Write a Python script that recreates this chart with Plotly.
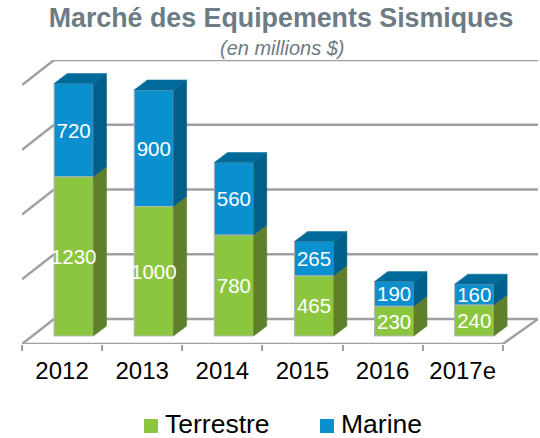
import plotly.graph_objects as go

categories = ["2012", "2013", "2014", "2015", "2016", "2017e"]
terrestre = [1230, 1000, 780, 465, 230, 240]
marine = [720, 900, 560, 265, 190, 160]
grid_values = [0, 500, 1000, 1500, 2000]

# faux-3D projection, in axis units
FLOOR_LIFT = 62      # bars stand on the floor, slightly behind its front edge
BAR_OFFSET = -0.1
BAR_WIDTH = 0.49
BAR_DEPTH_X = 0.165
BAR_DEPTH_Y = 77
WALL_DEPTH_X = 0.40
WALL_DEPTH_Y = 193
WALL_RIGHT_X = 5.5 + 0.44
LABEL_DROP = 18

GREEN, GREEN_SIDE = "#8cc63f", "#5f7f2b"
BLUE, BLUE_SIDE, BLUE_TOP = "#0a8fcf", "#005f8a", "#006a9a"
GRID = "#a0a0a0"
TITLE_GREY = "#6d7b84"
FONT = "Liberation Sans"

xs = list(range(len(categories)))
fig = go.Figure()


def polygon(px, py, color):
    fig.add_trace(go.Scatter(x=px + [px[0]], y=py + [py[0]], mode="lines", fill="toself",
                             fillcolor=color, line=dict(color=color, width=0.5),
                             hoverinfo="skip", showlegend=False, cliponaxis=False))


green_base = [FLOOR_LIFT] * len(xs)
blue_base = [FLOOR_LIFT + t for t in terrestre]
fig.add_trace(go.Bar(x=xs, y=terrestre, base=green_base, name="Terrestre", offset=BAR_OFFSET,
                     width=BAR_WIDTH, marker=dict(color=GREEN, line=dict(color="#b5b5b5", width=1)),
                     showlegend=False))
fig.add_trace(go.Bar(x=xs, y=marine, base=blue_base, name="Marine", offset=BAR_OFFSET,
                     width=BAR_WIDTH, marker=dict(color=BLUE, line=dict(color="#b5b5b5", width=1)),
                     showlegend=False))

for x, t, m in zip(xs, terrestre, marine):
    right = x + BAR_OFFSET + BAR_WIDTH
    left = x + BAR_OFFSET
    y0, y1, y2 = FLOOR_LIFT, FLOOR_LIFT + t, FLOOR_LIFT + t + m
    polygon([right, right + BAR_DEPTH_X, right + BAR_DEPTH_X, right],
            [y0, y0 + BAR_DEPTH_Y, y1 + BAR_DEPTH_Y, y1], GREEN_SIDE)
    polygon([right, right + BAR_DEPTH_X, right + BAR_DEPTH_X, right],
            [y1, y1 + BAR_DEPTH_Y, y2 + BAR_DEPTH_Y, y2], BLUE_SIDE)
    polygon([left, left + BAR_DEPTH_X, right + BAR_DEPTH_X, right],
            [y2, y2 + BAR_DEPTH_Y, y2 + BAR_DEPTH_Y, y2], BLUE_TOP)

label_x = [x + BAR_OFFSET + BAR_WIDTH / 2 for x in xs]
fig.add_trace(go.Scatter(x=label_x, y=[FLOOR_LIFT + t / 2 - LABEL_DROP for t in terrestre], mode="text",
                         text=[str(v) for v in terrestre], textposition="middle center",
                         textfont=dict(color="white", size=20.5, family=FONT),
                         showlegend=False, cliponaxis=False))
fig.add_trace(go.Scatter(x=label_x, y=[FLOOR_LIFT + t + m / 2 - LABEL_DROP for t, m in zip(terrestre, marine)],
                         mode="text", text=[str(v) for v in marine], textposition="middle center",
                         textfont=dict(color="white", size=20.5, family=FONT),
                         showlegend=False, cliponaxis=False))

# front edge and right edge of the floor stay on top, unclipped
fig.add_trace(go.Scatter(x=[-0.5, 5.5], y=[0, 0], mode="lines",
                         line=dict(color=GRID, width=2.5), hoverinfo="skip",
                         showlegend=False, cliponaxis=False))
fig.add_trace(go.Scatter(x=[5.5, WALL_RIGHT_X], y=[0, WALL_DEPTH_Y], mode="lines",
                         line=dict(color=GRID, width=2.5), hoverinfo="skip",
                         showlegend=False, cliponaxis=False))

shapes = []
for v in grid_values:
    shapes.append(dict(type="line", layer="below", xref="x", yref="y", x0=-0.5, y0=v,
                       x1=-0.5 + WALL_DEPTH_X, y1=v + WALL_DEPTH_Y,
                       line=dict(color=GRID, width=2.5)))
    shapes.append(dict(type="line", layer="below", xref="x", yref="y", x0=-0.5 + WALL_DEPTH_X,
                       y0=v + WALL_DEPTH_Y, x1=WALL_RIGHT_X, y1=v + WALL_DEPTH_Y,
                       line=dict(color=GRID, width=2.5)))
# legend keys
shapes.append(dict(type="rect", xref="paper", yref="paper", x0=(144 - 22) / 516, x1=(158 - 22) / 516,
                   y0=-(433 - 344) / 284, y1=-(419 - 344) / 284, fillcolor=GREEN, line=dict(width=0)))
shapes.append(dict(type="rect", xref="paper", yref="paper", x0=(320 - 22) / 516, x1=(334 - 22) / 516,
                   y0=-(433 - 344) / 284, y1=-(419 - 344) / 284, fillcolor=BLUE, line=dict(width=0)))

annotations = [
    dict(text="<i>(en millions $)</i>", xref="paper", yref="paper", x=(282 - 22) / 516,
         y=(344 - 48) / 284, yanchor="middle", showarrow=False,
         font=dict(size=20, color=TITLE_GREY, family=FONT)),
    dict(text="Terrestre", xref="paper", yref="paper", x=(163 - 22) / 516, xanchor="left",
         y=-(424 - 344) / 284, yanchor="middle", showarrow=False,
         font=dict(size=26.5, color="black", family=FONT)),
    dict(text="Marine", xref="paper", yref="paper", x=(339 - 22) / 516, xanchor="left",
         y=-(424 - 344) / 284, yanchor="middle", showarrow=False,
         font=dict(size=26.5, color="black", family=FONT)),
]

fig.update_layout(
    width=540, height=438, autosize=False,
    margin=dict(l=22, r=2, t=60, b=94, pad=0),
    paper_bgcolor="white", plot_bgcolor="white",
    barmode="overlay", showlegend=False,
    title=dict(text="<b>Marché des Equipements Sismiques</b>", x=281 / 540,
               xanchor="center", y=1 - 18 / 438, yanchor="middle",
               font=dict(size=26.8, color=TITLE_GREY, family=FONT)),
    shapes=shapes, annotations=annotations,
    xaxis=dict(range=[-0.5, WALL_RIGHT_X], tickmode="array", tickvals=xs, ticktext=categories,
               ticks="", showline=False, showgrid=False, zeroline=False, ticklabelstandoff=10,
               tickfont=dict(size=24, color="black", family=FONT),
               minor=dict(tickmode="array", tickvals=[x - 0.5 for x in xs] + [5.5], ticks="outside",
                          ticklen=6, tickwidth=1.5, tickcolor=GRID, showgrid=False)),
    yaxis=dict(range=[0, 2000 + WALL_DEPTH_Y], showticklabels=False, ticks="", showgrid=False,
               zeroline=False, showline=False, fixedrange=True),
)

fig.write_html("out.html", config={"displayModeBar": False},
               post_script="document.body.style.margin='0';")
